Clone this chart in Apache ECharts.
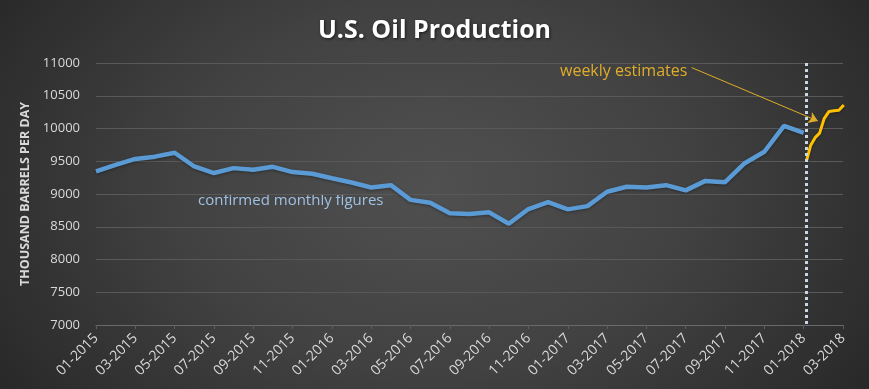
<!DOCTYPE html>
<html>
<head>
<meta charset="utf-8">
<script src="https://cdn.jsdelivr.net/npm/echarts@6/dist/echarts.min.js"></script>
<style>
html,body{margin:0;padding:0;}
#chart{width:869px;height:389px;background:radial-gradient(ellipse 72% 115% at 50% 48%, #505050 0%, #414141 42%, #1e1e1e 100%);}
</style>
</head>
<body>
<div id="chart"></div>
<script>
// Monthly categories 01-2015 .. 03-2018
const months = ['01-2015','02-2015','03-2015','04-2015','05-2015','06-2015','07-2015','08-2015','09-2015','10-2015','11-2015','12-2015',
'01-2016','02-2016','03-2016','04-2016','05-2016','06-2016','07-2016','08-2016','09-2016','10-2016','11-2016','12-2016',
'01-2017','02-2017','03-2017','04-2017','05-2017','06-2017','07-2017','08-2017','09-2017','10-2017','11-2017','12-2017',
'01-2018','02-2018','03-2018'];
// Confirmed monthly figures (thousand barrels per day), 01-2015 .. 01-2018
const monthly = [9345, 9445, 9535, 9570, 9630, 9420, 9320, 9395, 9370, 9415, 9335, 9310,
9240, 9175, 9100, 9135, 8910, 8865, 8705, 8695, 8720, 8545, 8770, 8875,
8765, 8815, 9035, 9110, 9100, 9135, 9055, 9200, 9180, 9470, 9645, 10040,
9935];
// Weekly estimates: position in months since 01-2015, value
const weeklyPos = [36.13, 36.35, 36.58, 36.81, 37.04, 37.29, 37.54, 37.79, 38.04];
const weeklyVal = [9490, 9740, 9860, 9930, 10150, 10260, 10270, 10280, 10360];
const yTicks = {min: 7000, max: 11000, interval: 500};

const chart = echarts.init(document.getElementById('chart'), null, {renderer: 'canvas'});
const font = '"Open Sans", sans-serif';
const labelColor = '#d9d9d9';

const option = {
  backgroundColor: 'transparent',
  textStyle: {fontFamily: font},
  title: {
    text: 'U.S. Oil Production',
    left: 'center',
    top: 13,
    textStyle: {color: '#ffffff', fontSize: 25, fontWeight: 'bold', fontFamily: font,
      textShadowColor: 'rgba(0,0,0,0.6)', textShadowBlur: 3, textShadowOffsetX: 1, textShadowOffsetY: 1}
  },
  grid: {left: 96, right: 26, top: 63, bottom: 64},
  xAxis: [{
    type: 'category',
    data: months,
    boundaryGap: false,
    axisLine: {lineStyle: {color: '#6a6a6a', width: 1}},
    axisTick: {show: true, interval: 1, length: 4, lineStyle: {color: '#5e5e5e'}},
    axisLabel: {interval: 1, rotate: 45, color: labelColor, fontSize: 14, fontFamily: font, margin: 11},
    splitLine: {show: false}
  }, {
    type: 'value',
    min: 0,
    max: months.length - 1,
    show: false
  }],
  yAxis: {
    type: 'value',
    min: yTicks.min, max: yTicks.max, interval: yTicks.interval,
    name: 'THOUSAND BARRELS PER DAY',
    nameLocation: 'middle',
    nameGap: 55,
    nameTextStyle: {color: labelColor, fontSize: 12.5, fontWeight: 'bold', fontFamily: font},
    axisLine: {show: false},
    axisTick: {show: false},
    axisLabel: {color: labelColor, fontSize: 13, fontFamily: font, margin: 16, formatter: v => String(v)},
    splitLine: {lineStyle: {color: '#595959', width: 1}}
  },
  series: [{
    name: 'confirmed monthly figures',
    type: 'line',
    data: monthly,
    xAxisIndex: 0,
    symbol: 'none',
    lineStyle: {color: '#5b9bd5', width: 4.5, shadowColor: 'rgba(0,0,0,0.35)', shadowBlur: 3, shadowOffsetY: 1},
    z: 3
  }, {
    name: 'weekly estimates',
    type: 'line',
    xAxisIndex: 1,
    data: weeklyPos.map((p, i) => [p, weeklyVal[i]]),
    symbol: 'none',
    lineStyle: {color: '#ffc000', width: 3, shadowColor: 'rgba(0,0,0,0.35)', shadowBlur: 3, shadowOffsetY: 1},
    z: 4,
    markLine: {
      silent: true,
      symbol: 'none',
      animation: false,
      label: {show: false},
      data: [
        [{xAxis: weeklyPos[0], yAxis: yTicks.max, lineStyle: {color: '#c9d6e3', width: 3, type: [3, 3]}},
         {xAxis: weeklyPos[0], yAxis: yTicks.min}],
        [{coord: [30.3, 10930], symbol: 'none', lineStyle: {color: '#e0ad2a', width: 1, type: 'solid'}},
         {coord: [36.72, 10115], symbol: 'arrow', symbolSize: 9}]
      ]
    }
  }],
  graphic: [{
    type: 'text', left: 560, top: 63,
    style: {text: 'weekly estimates', fill: '#e0ad2a', font: '16px "Open Sans", sans-serif'}
  }, {
    type: 'text', left: 198, top: 193,
    style: {text: 'confirmed monthly figures', fill: '#9fc1e3', font: '15px "Open Sans", sans-serif'}
  }],
  animation: false
};
chart.setOption(option);
</script>
</body>
</html>
